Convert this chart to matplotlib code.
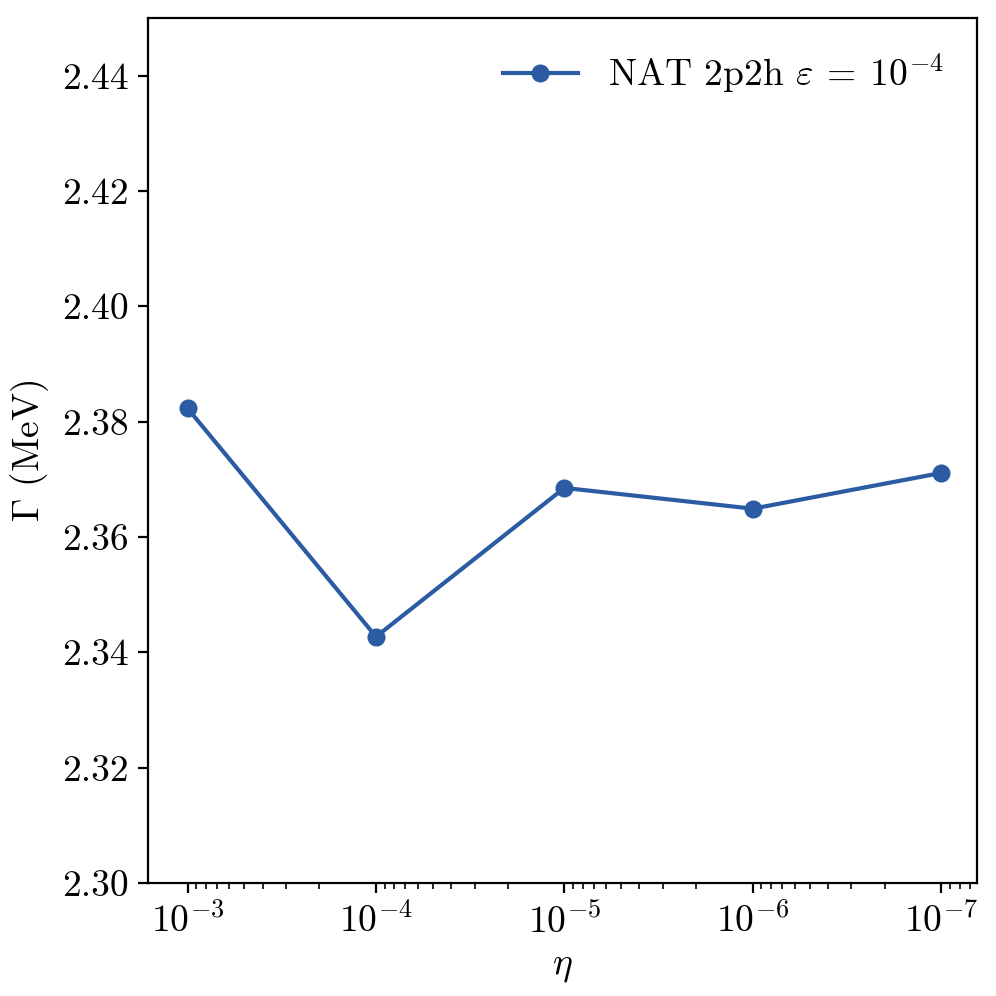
import matplotlib
matplotlib.use("Agg")
import matplotlib.pyplot as plt
import numpy as np

plt.rcParams['font.family'] = 'serif'
plt.rcParams['font.serif'] = ['cmr10']
plt.rcParams['mathtext.fontset'] = 'cm'
plt.rcParams['axes.formatter.use_mathtext'] = True
plt.rcParams['axes.unicode_minus'] = False

eta = [1e-3, 1e-4, 1e-5, 1e-6, 1e-7]
gamma = [2.3823, 2.3427, 2.3685, 2.3649, 2.3711]
label = r'NAT 2p2h $\varepsilon\:=\:10^{-4}$'

fig = plt.figure(figsize=(4.98, 4.98), dpi=200)
ax = fig.add_axes([0.1486, 0.1135, 0.8324, 0.8685])
ax.plot(eta, gamma, '-o', color='#2b5ca3', lw=1.5, ms=5.5, label=label)
ax.set_xscale('log')
ax.set_xlim(10**-2.79, 10**-7.19)
ax.set_ylim(2.30, 2.45)
ax.set_yticks(np.arange(2.30, 2.441, 0.02))
ax.set_yticklabels([f'{v:.2f}' for v in np.arange(2.30, 2.441, 0.02)])
ax.tick_params(labelsize=13.5)
ax.set_xlabel(r'$\eta$', fontsize=13.5)
ax.set_ylabel(r'$\Gamma$ (MeV)', fontsize=13.5)
ax.legend(frameon=False, fontsize=13.5, loc='upper right')
fig.savefig('out.png', dpi=200)
